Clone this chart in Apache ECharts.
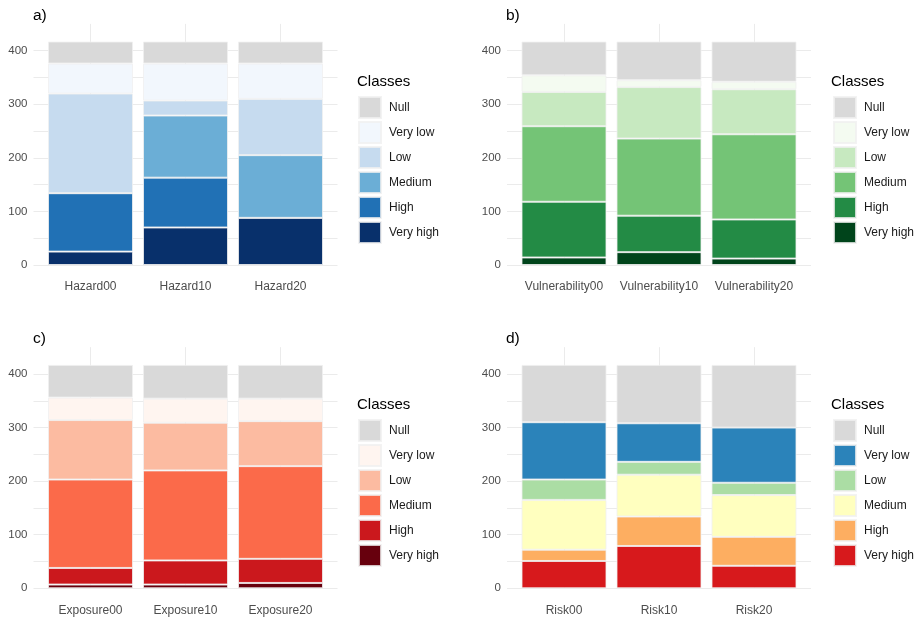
<!DOCTYPE html>
<html>
<head>
<meta charset="utf-8">
<script src="https://cdn.jsdelivr.net/npm/echarts@6/dist/echarts.min.js"></script>
<style>
  html, body { margin: 0; padding: 0; background: #ffffff; }
  #chart { width: 917px; height: 622px; }
</style>
</head>
<body>
<div id="chart"></div>
<script>
// Stacking order (bottom to top)
const stackClasses = ['Very high', 'High', 'Medium', 'Low', 'Very low', 'Null'];
// Legend order (top to bottom)
const legendClasses = ['Null', 'Very low', 'Low', 'Medium', 'High', 'Very high'];

const hazardCats = ['Hazard00', 'Hazard10', 'Hazard20'];
const vulnerabilityCats = ['Vulnerability00', 'Vulnerability10', 'Vulnerability20'];
const exposureCats = ['Exposure00', 'Exposure10', 'Exposure20'];
const riskCats = ['Risk00', 'Risk10', 'Risk20'];

// Rows follow stackClasses: Very high, High, Medium, Low, Very low, Null
const hazardValues = [
  [25, 70, 88],
  [109, 93, 0],
  [0, 116, 117],
  [186, 28, 105],
  [56, 69, 66],
  [41, 41, 41]
];
const vulnerabilityValues = [
  [14, 24, 12],
  [104, 68, 73],
  [141, 144, 159],
  [64, 96, 84],
  [31, 13, 14],
  [63, 72, 75]
];
const exposureValues = [
  [7, 7, 10],
  [31, 45, 45],
  [165, 168, 173],
  [111, 89, 84],
  [42, 45, 42],
  [61, 63, 63]
];
const riskValues = [
  [51, 79, 42],
  [21, 55, 54],
  [93, 78, 78],
  [38, 24, 23],
  [107, 72, 103],
  [107, 109, 117]
];

const yTickLabels = [0, 100, 200, 300, 400];

// Colors follow stackClasses order
const blues = ['#08306b', '#2171b5', '#6baed6', '#c6dbef', '#f2f7fd', '#d9d9d9'];
const greens = ['#00441b', '#238b45', '#74c476', '#c7e9c0', '#f4fbf1', '#d9d9d9'];
const reds = ['#67000d', '#cb181d', '#fb6a4a', '#fcbba1', '#fff5f0', '#d9d9d9'];
const spectral = ['#d7191c', '#fdae61', '#ffffbf', '#abdda4', '#2b83ba', '#d9d9d9'];

const FONT = '"Liberation Sans", Arial, sans-serif';

const panels = [
  { key: 'a', cats: hazardCats, values: hazardValues, colors: blues, left: 33.5, top: 23.9,
    tag: { left: 33, top: 8 }, legendTitle: { left: 357, top: 74 }, legend: { left: 358, top: 96 } },
  { key: 'b', cats: vulnerabilityCats, values: vulnerabilityValues, colors: greens, left: 507, top: 23.9,
    tag: { left: 506, top: 8 }, legendTitle: { left: 831, top: 74 }, legend: { left: 833, top: 96 } },
  { key: 'c', cats: exposureCats, values: exposureValues, colors: reds, left: 33.5, top: 347.2,
    tag: { left: 33, top: 331 }, legendTitle: { left: 357, top: 397 }, legend: { left: 358, top: 419 } },
  { key: 'd', cats: riskCats, values: riskValues, colors: spectral, left: 507, top: 347.2,
    tag: { left: 506, top: 331 }, legendTitle: { left: 831, top: 397 }, legend: { left: 833, top: 419 } }
];

const PLOT_W = 304, PLOT_H = 241.1, BAND = 95, EXPAND = 0.6 * BAND - BAND / 2;

const grids = [], xAxes = [], yAxes = [], series = [], titles = [], legends = [];
const splitColors = [];
for (let v = 0; v <= 450; v += 50) splitColors.push(v <= 400 ? '#ebebeb' : 'rgba(0,0,0,0)');

panels.forEach((p, pi) => {
  // Background grid: gridlines + axis labels (ggplot-like expanded range)
  const gBg = grids.length;
  grids.push({ left: p.left, top: p.top, width: PLOT_W, height: PLOT_H, containLabel: false });
  xAxes.push({
    type: 'value', gridIndex: gBg, min: 0.4, max: 3.6,
    axisLine: { show: false },
    axisTick: { show: false, customValues: [1, 2, 3] },
    axisLabel: { customValues: [1, 2, 3], color: '#4d4d4d', fontSize: 12, fontFamily: FONT, margin: 16,
      formatter: (v) => p.cats[Math.round(v) - 1] || '' },
    splitLine: { show: true, lineStyle: { color: '#ebebeb', width: 1 } }
  });
  yAxes.push({
    type: 'value', gridIndex: gBg, min: 0, max: 450, interval: 50,
    axisLine: { show: false }, axisTick: { show: false },
    axisLabel: { color: '#4d4d4d', fontSize: 11.5, fontFamily: FONT, margin: 6,
      formatter: (v) => (yTickLabels.indexOf(v) >= 0 ? String(v) : '') },
    splitLine: { show: true, lineStyle: { color: splitColors, width: 1 } }
  });
  // Bar grid: category bands only
  const gBar = grids.length;
  grids.push({ left: p.left + EXPAND, top: p.top, width: PLOT_W - 2 * EXPAND, height: PLOT_H, containLabel: false });
  xAxes.push({
    type: 'category', gridIndex: gBar, data: p.cats,
    axisLine: { show: false }, axisTick: { show: false }, axisLabel: { show: false }, splitLine: { show: false }
  });
  yAxes.push({
    type: 'value', gridIndex: gBar, min: 0, max: 450,
    axisLine: { show: false }, axisTick: { show: false }, axisLabel: { show: false }, splitLine: { show: false }
  });

  titles.push({ text: p.key + ')', left: p.tag.left, top: p.tag.top, padding: 0,
    textStyle: { fontSize: 15.5, fontWeight: 'normal', color: '#000', fontFamily: FONT } });
  titles.push({ text: 'Classes', left: p.legendTitle.left, top: p.legendTitle.top, padding: 0,
    textStyle: { fontSize: 15, fontWeight: 'normal', color: '#000', fontFamily: FONT } });
  legends.push({
    data: legendClasses.map(c => p.key + '|' + c),
    orient: 'vertical', left: p.legend.left, top: p.legend.top, padding: 0,
    itemWidth: 22, itemHeight: 21, itemGap: 2, icon: 'rect',
    formatter: (n) => n.split('|')[1],
    textStyle: { fontSize: 12, color: '#1a1a1a', fontFamily: FONT, padding: [0, 0, 0, 3] },
    selectedMode: false
  });
  stackClasses.forEach((cls, ci) => {
    series.push({
      type: 'bar', name: p.key + '|' + cls, xAxisIndex: gBar, yAxisIndex: gBar,
      stack: 'stack' + p.key, barWidth: 85,
      itemStyle: { color: p.colors[ci], borderColor: 'rgba(240,240,240,0.8)', borderWidth: 1 },
      emphasis: { disabled: true },
      data: p.values[ci]
    });
  });
});

const chart = echarts.init(document.getElementById('chart'), null, { renderer: 'canvas' });
chart.setOption({
  backgroundColor: '#ffffff',
  animation: false,
  textStyle: { fontFamily: FONT },
  title: titles,
  legend: legends,
  grid: grids,
  xAxis: xAxes,
  yAxis: yAxes,
  series: series
});
</script>
</body>
</html>
